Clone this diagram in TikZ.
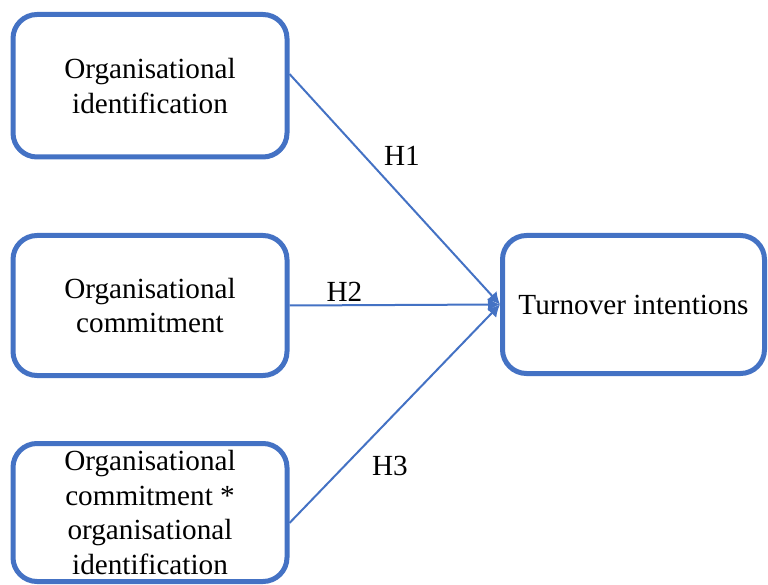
\documentclass[tikz,border=0pt]{standalone}
\usepackage{fontspec}
\setmainfont{Liberation Serif}
\usetikzlibrary{arrows.meta}
\definecolor{boxblue}{HTML}{4472C4}
\begin{document}
\begin{tikzpicture}[x=1pt,y=-1pt,
  box/.style={draw=boxblue, line width=5pt, rounded corners=24pt, inner sep=0pt,
    align=center, font=\fontsize{29.2}{34.8}\selectfont},
  link/.style={draw=boxblue, line width=2pt, -{Latex[length=12pt,width=13pt]}},
  hlabel/.style={font=\fontsize{29.2}{34.8}\selectfont, inner sep=0pt}]
\useasboundingbox (0,0) rectangle (768,585);
\node[box, minimum width=274pt, minimum height=142.5pt] (b1) at (150,85.75) {Organisational\\identification};
\node[box, minimum width=274pt, minimum height=140pt] (b2) at (150,305.5) {Organisational\\commitment};
\node[box, minimum width=274pt, minimum height=138pt] (b3) at (150,512.5) {Organisational\\commitment *\\organisational\\identification};
\node[box, minimum width=262pt, minimum height=138pt] (t) at (633.5,304.5) {Turnover intentions};
\path (b1.east) ++(0,-11.75) coordinate (s1);
\path (b3.east) ++(0,10.5) coordinate (s3);
\draw[link] (s1) -- (t.west);
\draw[link] (b2.east) -- (t.west);
\draw[link] (s3) -- (t.west);
\node[hlabel] (h1) at (402,156) {H1};
\node[hlabel] (h2) at (344.5,292) {H2};
\node[hlabel] (h3) at (390,466) {H3};
\end{tikzpicture}
\end{document}
